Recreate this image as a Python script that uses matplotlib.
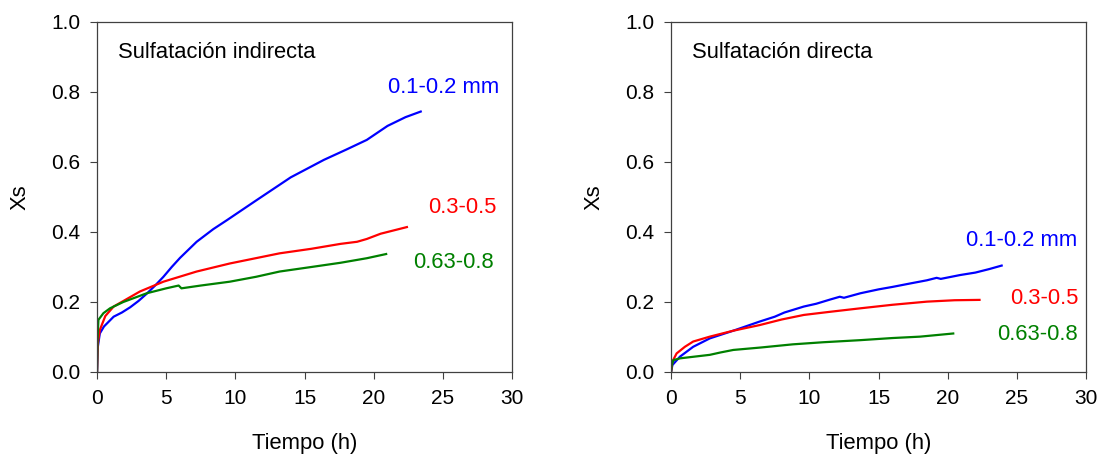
import numpy as np
import matplotlib.pyplot as plt
from matplotlib.ticker import FormatStrFormatter

plt.rcParams['font.family'] = ['Liberation Sans', 'DejaVu Sans']

# ---- Sulfatación indirecta ----
t_ind_01 = [0, 0.05, 0.2, 0.5, 1.2, 1.8, 2.4, 3.0, 3.6, 4.2, 4.8, 5.4, 6.0, 7.2, 8.4, 9.4, 11.5, 14.0, 16.4, 18.0, 19.5, 21.0, 22.3, 23.4]
x_ind_01 = [0, 0.07, 0.11, 0.13, 0.158, 0.17, 0.185, 0.203, 0.224, 0.247, 0.272, 0.3, 0.326, 0.372, 0.408, 0.434, 0.49, 0.556, 0.606, 0.635, 0.663, 0.703, 0.728, 0.744]

t_ind_03 = [0, 0.05, 0.2, 0.6, 1.2, 2.0, 3.1, 4.8, 7.2, 9.6, 13.2, 15.5, 17.6, 18.8, 19.5, 20.5, 21.5, 22.4]
x_ind_03 = [0, 0.08, 0.12, 0.16, 0.187, 0.205, 0.23, 0.258, 0.287, 0.31, 0.339, 0.352, 0.366, 0.372, 0.38, 0.395, 0.405, 0.414]

t_ind_06 = [0, 0.03, 0.1, 0.46, 0.94, 1.9, 3.6, 5.0, 5.9, 6.1, 7.5, 9.6, 11.5, 13.2, 15.5, 17.6, 19.5, 20.9]
x_ind_06 = [0, 0.09, 0.149, 0.168, 0.182, 0.2, 0.225, 0.239, 0.247, 0.239, 0.247, 0.258, 0.272, 0.287, 0.3, 0.312, 0.325, 0.337]

# ---- Sulfatación directa ----
t_dir_01 = [0, 0.1, 0.65, 1.6, 2.8, 4.5, 6.4, 7.5, 8.2, 9.6, 10.5, 11.5, 12.2, 12.5, 13.7, 15.0, 16.0, 17.3, 18.5, 19.2, 19.5, 20.9, 22.0, 23.0, 23.9]
x_dir_01 = [0, 0.02, 0.044, 0.072, 0.096, 0.118, 0.144, 0.158, 0.17, 0.187, 0.195, 0.207, 0.215, 0.212, 0.225, 0.236, 0.243, 0.253, 0.262, 0.269, 0.266, 0.277, 0.284, 0.294, 0.304]

t_dir_03 = [0, 0.1, 0.4, 1.0, 1.6, 2.8, 4.5, 6.4, 8.0, 9.6, 11.5, 13.7, 16.0, 18.5, 20.5, 22.3]
x_dir_03 = [0, 0.03, 0.053, 0.072, 0.087, 0.101, 0.118, 0.134, 0.15, 0.163, 0.172, 0.182, 0.192, 0.201, 0.205, 0.206]

t_dir_06 = [0, 0.05, 0.17, 0.65, 1.5, 2.8, 3.6, 4.5, 6.5, 8.8, 11.0, 13.7, 16.0, 18.0, 20.4]
x_dir_06 = [0, 0.02, 0.034, 0.039, 0.043, 0.049, 0.056, 0.063, 0.07, 0.079, 0.085, 0.091, 0.097, 0.101, 0.11]

BLUE = "#0000ff"
RED = "#ff0000"
GREEN = "#008000"

fig = plt.figure(figsize=(10.99, 4.57), dpi=100)
ax1 = fig.add_axes([0.0883, 0.186, 0.3776, 0.766])
ax2 = fig.add_axes([0.6106, 0.186, 0.3776, 0.766])

panels = [
    (ax1, "Sulfatación indirecta",
     [(t_ind_01, x_ind_01, BLUE), (t_ind_03, x_ind_03, RED), (t_ind_06, x_ind_06, GREEN)],
     [(21.0, 0.814), (23.9, 0.469), (22.85, 0.314)]),
    (ax2, "Sulfatación directa",
     [(t_dir_01, x_dir_01, BLUE), (t_dir_03, x_dir_03, RED), (t_dir_06, x_dir_06, GREEN)],
     [(21.3, 0.377), (24.5, 0.211), (23.6, 0.106)]),
]
labels = ["0.1-0.2 mm", "0.3-0.5", "0.63-0.8"]

FS = 15.8

for ax, title, series, label_pos in panels:
    for (t, x, c), (lx, ly), lab in zip(series, label_pos, labels):
        ax.plot(t, x, color=c, lw=1.6)
        ax.text(lx, ly, lab, color=c, fontsize=FS, va="center", ha="left")
    ax.text(1.5, 0.914, title, fontsize=FS, va="center", ha="left")
    ax.set_xlim(0, 30)
    ax.set_ylim(0, 1.0)
    ax.set_xticks(np.arange(0, 31, 5))
    ax.set_yticks(np.arange(0, 1.01, 0.2))
    ax.yaxis.set_major_formatter(FormatStrFormatter("%.1f"))
    ax.tick_params(direction="out", length=5, pad=7, labelsize=15, color="#404040")
    for s in ax.spines.values():
        s.set_color("#404040")
        s.set_linewidth(0.9)
    ax.set_xlabel("Tiempo (h)", fontsize=FS, labelpad=18)
    ax.set_ylabel("Xs", fontsize=FS, labelpad=15)

fig.savefig("out.png", dpi=100)
